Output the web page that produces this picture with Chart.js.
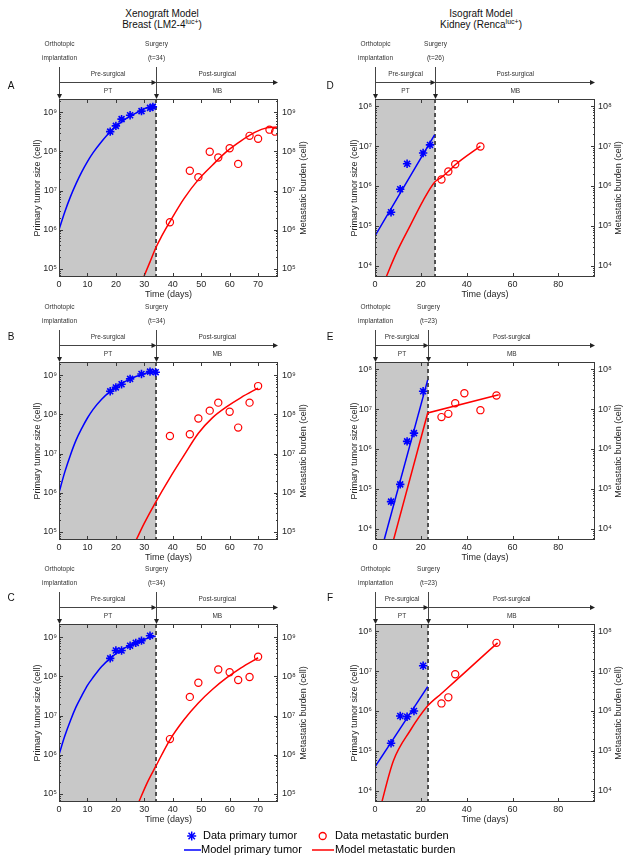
<!DOCTYPE html>
<html>
<head>
<meta charset="utf-8">
<script src="https://cdn.jsdelivr.net/npm/chart.js@4.4.0/dist/chart.umd.min.js"></script>
<style>
  body { margin: 0; background: #fff; width: 627px; height: 862px; position: relative; overflow: hidden;
         font-family: 'Liberation Sans', Arial, sans-serif; color: #111; }
  canvas { position: absolute; }
  .ttl { position: absolute; width: 220px; text-align: center; font-size: 10px; line-height: 11px; white-space: nowrap; }
  .ttl span { font-size: 7px; position: relative; top: -4px; }
  .lg { position: absolute; font-size: 11px; line-height: 13px; white-space: nowrap; color: #000; }
</style>
</head>
<body>
<div class="ttl" style="left:52px;top:8px">Xenograft Model</div>
<div class="ttl" style="left:52px;top:19px">Breast (LM2-4<span>luc+</span>)</div>
<div class="ttl" style="left:371px;top:8px">Isograft Model</div>
<div class="ttl" style="left:371px;top:19px">Kidney (Renca<span>luc+</span>)</div>

<canvas id="pA" width="313" height="268"></canvas>
<canvas id="pB" width="313" height="268"></canvas>
<canvas id="pC" width="313" height="268"></canvas>
<canvas id="pD" width="314" height="268"></canvas>
<canvas id="pE" width="314" height="268"></canvas>
<canvas id="pF" width="314" height="268"></canvas>

<svg style="position:absolute;left:0;top:825px" width="627" height="37">
  <g stroke="#0000ff" stroke-width="1.5">
    <line x1="187.2" y1="11" x2="196.2" y2="11"/>
    <line x1="191.7" y1="6.5" x2="191.7" y2="15.5"/>
    <line x1="188.5" y1="7.8" x2="194.9" y2="14.2"/>
    <line x1="188.5" y1="14.2" x2="194.9" y2="7.8"/>
    <line x1="184" y1="25" x2="201" y2="25"/>
  </g>
  <circle cx="322.7" cy="11" r="3.5" fill="none" stroke="#ff0000" stroke-width="1.3"/>
  <line x1="312" y1="25" x2="334" y2="25" stroke="#ff0000" stroke-width="1.5"/>
</svg>
<div class="lg" style="left:203px;top:829px">Data primary tumor</div>
<div class="lg" style="left:335px;top:829px">Data metastatic burden</div>
<div class="lg" style="left:201px;top:843px">Model primary tumor</div>
<div class="lg" style="left:335px;top:843px">Model metastatic burden</div>

<script>
// ---- data ----
const surgeryDays = [34, 34, 34, 26, 23, 23];
const leftTickDays = [0, 10, 20, 30, 40, 50, 60, 70];
const rightTickDays = [0, 20, 40, 60, 80];
const leftDecades = [1e5, 1e6, 1e7, 1e8, 1e9];
const rightDecades = [1e4, 1e5, 1e6, 1e7, 1e8];
const gompertzDays = [0, 2, 4, 6, 8, 10, 12, 15, 18, 21, 24, 27, 30, 34];

// A
const aPtDays = [18, 20, 22, 25, 29, 32, 33];
const aPtCells = [3.2e8, 4.5e8, 6.7e8, 8.4e8, 1.07e9, 1.3e9, 1.38e9];
const aMbDays = [39, 46, 49, 53, 56, 60, 63, 67, 70, 74, 76];
const aMbCells = [1.55e6, 3.2e7, 2.2e7, 9.8e7, 7e7, 1.2e8, 4.8e7, 2.5e8, 2.1e8, 3.6e8, 3.2e8];
const aPtModel = [1e6, 2.8e6, 6.9e6, 1.5e7, 3.0e7, 5.5e7, 9.3e7, 1.8e8, 3.2e8, 5.0e8, 7.2e8, 9.5e8, 1.23e9, 1.62e9];
const aMbModelDays = [29, 32, 34, 36, 39, 44, 49, 54, 59, 64, 69, 73, 77];
const aMbModel = [4.5e4, 1.5e5, 3.4e5, 6.6e5, 1.6e6, 6.3e6, 1.9e7, 4.5e7, 1.0e8, 1.86e8, 3.1e8, 4.0e8, 4.2e8];

// B
const bPtDays = [18, 20, 22, 25, 29, 32, 34];
const bPtCells = [3.9e8, 4.9e8, 5.9e8, 8.1e8, 1.08e9, 1.24e9, 1.2e9];
const bMbDays = [39, 46, 49, 53, 56, 60, 63, 67, 70];
const bMbCells = [2.8e7, 3.1e7, 7.9e7, 1.25e8, 2e8, 1.17e8, 4.6e7, 2e8, 5.3e8];
const bPtModel = [1e6, 3.3e6, 9.1e6, 2.2e7, 4.4e7, 8.1e7, 1.35e8, 2.45e8, 3.9e8, 5.6e8, 7.4e8, 9.3e8, 1.1e9, 1.29e9];
const bMbModelDays = [27, 30, 34, 39, 44, 49, 54, 59, 64, 70];
const bMbModel = [5.9e4, 1.66e5, 5.75e5, 2.4e6, 9.1e6, 3.3e7, 8.3e7, 1.58e8, 2.7e8, 4.7e8];

// C
const cPtDays = [18, 20, 22, 25, 27, 29, 32];
const cPtCells = [2.9e8, 4.6e8, 4.6e8, 6.1e8, 7.2e8, 8.2e8, 1.1e9];
const cMbDays = [39, 46, 49, 56, 60, 63, 67, 70];
const cMbCells = [2.5e6, 3e7, 6.9e7, 1.5e8, 1.28e8, 8.1e7, 9.7e7, 3.2e8];
const cPtModel = [1e6, 2.95e6, 7.4e6, 1.66e7, 3.2e7, 5.9e7, 9.5e7, 1.8e8, 2.9e8, 4.3e8, 5.8e8, 7.2e8, 8.9e8, 1.07e9];
const cMbModelDays = [28, 31, 34, 39, 44, 49, 54, 59, 64, 70];
const cMbModel = [6e4, 1.9e5, 5e5, 2.4e6, 7.9e6, 2.1e7, 4.7e7, 9.3e7, 1.66e8, 3.0e8];

// D
const dPtDays = [7, 11, 14, 21, 24];
const dPtCells = [2.2e5, 8.3e5, 3.6e6, 6.7e6, 1.07e7];
const dMbDays = [29, 32, 35, 46];
const dMbCells = [1.45e6, 2.3e6, 3.5e6, 9.8e6];
const dPtModelDays = [0, 26];
const dPtModel = [5.6e4, 1.9e7];
const dMbModelDays = [4, 9.5, 15.3, 21, 26, 29, 32, 35, 46];
const dMbModel = [4e3, 2.2e4, 1.0e5, 4.3e5, 1.24e6, 1.65e6, 2.3e6, 3.4e6, 1e7];

// E
const ePtDays = [7, 11, 14, 17, 21];
const ePtCells = [4.8e4, 1.3e5, 1.55e6, 2.5e6, 2.8e7];
const eMbDays = [29, 32, 35, 39, 46, 53];
const eMbCells = [6.3e6, 7.6e6, 1.4e7, 2.5e7, 9.4e6, 2.2e7];
const ePtModelDays = [0, 23];
const ePtModel = [7.6e2, 5.4e7];
const eMbModelDays = [0, 23, 54];
const eMbModel = [1e2, 8e6, 2.3e7];

// F
const fPtDays = [7, 11, 14, 17, 21];
const fPtCells = [1.55e5, 7.5e5, 7.2e5, 1.0e6, 1.36e7];
const fMbDays = [29, 32, 35, 53];
const fMbCells = [1.55e6, 2.2e6, 8.3e6, 5.1e7];
const fPtModelDays = [0, 23];
const fPtModel = [4e4, 4.1e6];
const fMbModelDays = [2, 8, 15.3, 23, 29, 35, 45, 53.5];
const fMbModel = [3.2e3, 5.6e4, 3.2e5, 1.35e6, 2.75e6, 5.6e6, 1.86e7, 5.1e7];

// ---- drawing ----
Chart.defaults.font.family = "'Liberation Sans', Arial, sans-serif";
Chart.defaults.color = '#262626';

const FONT = "'Liberation Sans', Arial, sans-serif";
const SUP = {'0':'⁰','1':'¹','2':'²','3':'³','4':'⁴','5':'⁵','6':'⁶','7':'⁷','8':'⁸','9':'⁹','-':'⁻'};
const supLabel = v => '10' + String(Math.round(Math.log10(v))).split('').map(c => SUP[c]).join('');
const zip = (xs, ys) => xs.map((x, i) => ({x: x, y: ys[i]}));

function arrow(ctx, x, y, dir) {
  ctx.beginPath();
  if (dir === 'down') { ctx.moveTo(x, y); ctx.lineTo(x - 2.5, y - 5); ctx.lineTo(x + 2.5, y - 5); }
  else { ctx.moveTo(x, y); ctx.lineTo(x - 5, y - 2.5); ctx.lineTo(x - 5, y + 2.5); }
  ctx.closePath();
  ctx.fill();
}

const panelDecor = {
  id: 'panelDecor',
  beforeDatasetsDraw(chart, args, o) {
    const {ctx, chartArea: a} = chart;
    const xs = Math.round(chart.scales.x.getPixelForValue(o.surgery));
    ctx.save();
    ctx.fillStyle = '#c8c8c8';
    ctx.fillRect(a.left, a.top, xs - a.left, a.bottom - a.top);
    ctx.strokeStyle = '#505050';
    ctx.lineWidth = 2;
    ctx.setLineDash([4, 3]);
    ctx.beginPath(); ctx.moveTo(xs, a.top); ctx.lineTo(xs, a.bottom); ctx.stroke();
    ctx.restore();
  },
  afterDatasetsDraw(chart, args, o) {
    const {ctx, chartArea: a, scales: {x, y}} = chart;
    ctx.save();
    ctx.strokeStyle = '#3a3a3a';
    ctx.lineWidth = 1;
    ctx.strokeRect(a.left + 0.5, a.top + 0.5, a.right - a.left - 1, a.bottom - a.top - 1);
    ctx.beginPath();
    x.ticks.forEach(t => {
      const px = Math.round(x.getPixelForValue(t.value)) + 0.5;
      ctx.moveTo(px, a.bottom); ctx.lineTo(px, a.bottom - 4);
      ctx.moveTo(px, a.top); ctx.lineTo(px, a.top + 4);
    });
    const lo = Math.floor(Math.log10(y.min)), hi = Math.ceil(Math.log10(y.max));
    for (let e = lo; e <= hi; e++) {
      for (let k = 1; k <= 9; k++) {
        const v = k * Math.pow(10, e);
        if (v < y.min || v > y.max) continue;
        const py = Math.round(y.getPixelForValue(v)) + 0.5;
        const len = k === 1 ? 4 : 2;
        ctx.moveTo(a.left, py); ctx.lineTo(a.left + len, py);
        ctx.moveTo(a.right, py); ctx.lineTo(a.right - len, py);
      }
    }
    ctx.stroke();
    ctx.restore();
  },
  afterDraw(chart, args, o) {
    const {ctx, chartArea: a, scales: {x}} = chart;
    const x0 = Math.round(x.getPixelForValue(0)) + 0.5;
    const xs = Math.round(x.getPixelForValue(o.surgery)) + 0.5;
    const xe = a.right;
    const top = a.top;
    ctx.save();
    ctx.strokeStyle = '#444';
    ctx.fillStyle = '#222';
    ctx.lineWidth = 1;
    ctx.beginPath();
    ctx.moveTo(x0, top - 32); ctx.lineTo(x0, top - 3);
    ctx.moveTo(xs, top - 32); ctx.lineTo(xs, top - 3);
    ctx.moveTo(x0, top - 16.5); ctx.lineTo(xs - 3, top - 16.5);
    ctx.moveTo(xs, top - 16.5); ctx.lineTo(xe - 3, top - 16.5);
    ctx.stroke();
    arrow(ctx, x0, top, 'down');
    arrow(ctx, xs, top, 'down');
    arrow(ctx, xs, top - 16.5, 'right');
    arrow(ctx, xe, top - 16.5, 'right');

    ctx.fillStyle = '#333';
    ctx.font = '6.5px ' + FONT;
    ctx.textAlign = 'center';
    ctx.textBaseline = 'middle';
    ctx.fillText('Orthotopic', x0, top - 55);
    ctx.fillText('implantation', x0, top - 41);
    ctx.fillText('Surgery', xs, top - 55);
    ctx.fillText('(t=' + o.surgery + ')', xs, top - 41);
    ctx.fillText('Pre-surgical', (x0 + xs) / 2, top - 24.5);
    ctx.fillText('PT', (x0 + xs) / 2, top - 8);
    ctx.fillText('Post-surgical', (xs + xe) / 2, top - 24.5);
    ctx.fillText('MB', (xs + xe) / 2, top - 8);

    ctx.fillStyle = '#111';
    ctx.font = '10px ' + FONT;
    ctx.fillText(o.letter, o.letterX, top + o.letterDy);

    ctx.fillStyle = '#262626';
    ctx.font = '9px ' + FONT;
    const cy = (a.top + a.bottom) / 2;
    [[a.left - o.leftTitleGap, 'Primary tumor size (cell)'], [a.right + o.rightTitleGap, 'Metastatic burden (cell)']].forEach(([tx, txt]) => {
      ctx.save();
      ctx.translate(tx, cy);
      ctx.rotate(-Math.PI / 2);
      ctx.fillText(txt, 0, 0);
      ctx.restore();
    });
    ctx.restore();
  }
};

const panels = [
  {id: 'pA', letter: 'A', col: 0, row: 0, surgery: surgeryDays[0],
   pt: zip(aPtDays, aPtCells), mb: zip(aMbDays, aMbCells), ptM: zip(gompertzDays, aPtModel), mbM: zip(aMbModelDays, aMbModel)},
  {id: 'pB', letter: 'B', col: 0, row: 1, surgery: surgeryDays[1],
   pt: zip(bPtDays, bPtCells), mb: zip(bMbDays, bMbCells), ptM: zip(gompertzDays, bPtModel), mbM: zip(bMbModelDays, bMbModel)},
  {id: 'pC', letter: 'C', col: 0, row: 2, surgery: surgeryDays[2],
   pt: zip(cPtDays, cPtCells), mb: zip(cMbDays, cMbCells), ptM: zip(gompertzDays, cPtModel), mbM: zip(cMbModelDays, cMbModel)},
  {id: 'pD', letter: 'D', col: 1, row: 0, surgery: surgeryDays[3],
   pt: zip(dPtDays, dPtCells), mb: zip(dMbDays, dMbCells), ptM: zip(dPtModelDays, dPtModel), mbM: zip(dMbModelDays, dMbModel)},
  {id: 'pE', letter: 'E', col: 1, row: 1, surgery: surgeryDays[4], straight: true,
   pt: zip(ePtDays, ePtCells), mb: zip(eMbDays, eMbCells), ptM: zip(ePtModelDays, ePtModel), mbM: zip(eMbModelDays, eMbModel)},
  {id: 'pF', letter: 'F', col: 1, row: 2, surgery: surgeryDays[5],
   pt: zip(fPtDays, fPtCells), mb: zip(fMbDays, fMbCells), ptM: zip(fPtModelDays, fPtModel), mbM: zip(fMbModelDays, fMbModel)}
];

const plotTops = [99, 362, 624];
const letterDys = [-13, -25, -26];

panels.forEach(p => {
  const left = p.col === 0;
  const canvas = document.getElementById(p.id);
  canvas.style.left = (left ? 0 : 313) + 'px';
  canvas.style.top = (plotTops[p.row] - 66) + 'px';
  const decades = left ? leftDecades : rightDecades;
  const yMin = left ? Math.pow(10, 4.79) : Math.pow(10, 3.72);
  const yMax = left ? Math.pow(10, 9.34) : Math.pow(10, 8.18);
  const tickDays = left ? leftTickDays : rightTickDays;
  const yTicksCommon = {
    autoSkip: false,
    font: {size: 9},
    color: '#262626',
    callback: v => supLabel(v)
  };

  new Chart(canvas, {
    type: 'line',
    data: {
      datasets: [
        {data: p.ptM, borderColor: '#0000ff', borderWidth: 1.5, pointRadius: 0,
         cubicInterpolationMode: 'monotone', fill: false},
        {data: p.mbM, borderColor: '#ff0000', borderWidth: 1.5, pointRadius: 0,
         cubicInterpolationMode: p.straight ? 'default' : 'monotone', tension: 0, fill: false},
        {data: p.pt, showLine: false, pointStyle: 'star', pointRadius: 4.2, pointHoverRadius: 4.2,
         borderColor: '#0000ff', pointBorderWidth: 1.6, backgroundColor: '#0000ff'},
        {data: p.mb, showLine: false, pointStyle: 'circle', pointRadius: 3.6, pointHoverRadius: 3.6,
         borderColor: '#ff0000', pointBorderWidth: 1.2, backgroundColor: 'rgba(0,0,0,0)'}
      ]
    },
    options: {
      responsive: false,
      animation: false,
      events: [],
      layout: {padding: {top: 66, left: 0, right: 0, bottom: 0}},
      plugins: {
        legend: {display: false},
        tooltip: {enabled: false},
        panelDecor: {
          surgery: p.surgery, letter: p.letter,
          letterX: left ? 11 : 17, letterDy: letterDys[p.row],
          leftTitleGap: left ? 21.5 : 20, rightTitleGap: left ? 26 : 23.5
        }
      },
      scales: {
        x: {
          type: 'linear', min: 0, max: left ? 77 : 96,
          grid: {display: false, drawTicks: false}, border: {display: false},
          afterBuildTicks: s => { s.ticks = tickDays.map(v => ({value: v})); },
          afterFit: s => { s.height = 24; },
          ticks: {autoSkip: false, maxRotation: 0, padding: 2, font: {size: 9}, color: '#262626'},
          title: {display: true, text: 'Time (days)', font: {size: 9}, color: '#262626', padding: {top: 0, bottom: 1}}
        },
        y: {
          type: 'logarithmic', position: 'left', min: yMin, max: yMax,
          grid: {display: false, drawTicks: false}, border: {display: false},
          afterBuildTicks: s => { s.ticks = decades.map(v => ({value: v})); },
          afterFit: s => { s.width = left ? 59 : 62; },
          ticks: Object.assign({padding: left ? 2 : 3}, yTicksCommon)
        },
        y2: {
          type: 'logarithmic', position: 'right', min: yMin, max: yMax,
          grid: {display: false, drawTicks: false}, border: {display: false},
          afterBuildTicks: s => { s.ticks = decades.map(v => ({value: v})); },
          afterFit: s => { s.width = left ? 35 : 32; },
          ticks: Object.assign({padding: left ? 4 : 3}, yTicksCommon)
        }
      }
    },
    plugins: [panelDecor]
  });
});
</script>
</body>
</html>
